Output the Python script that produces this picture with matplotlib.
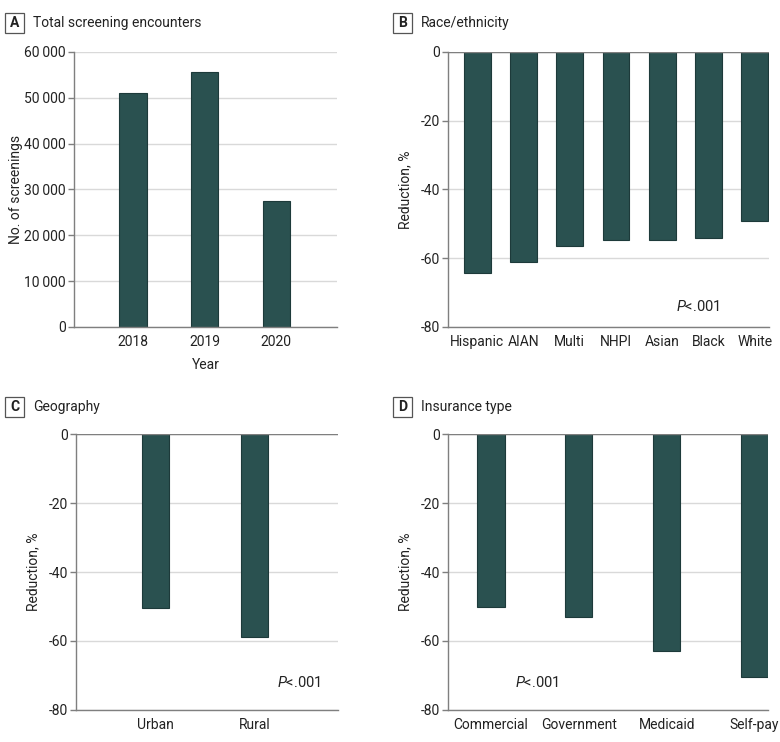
import matplotlib
matplotlib.use("Agg")
import matplotlib.pyplot as plt
from matplotlib.patches import Rectangle

plt.rcParams['font.family'] = ['Roboto', 'DejaVu Sans']
plt.rcParams['mathtext.fontset'] = 'custom'
plt.rcParams['mathtext.it'] = 'Roboto:italic'
plt.rcParams['mathtext.rm'] = 'Roboto'

# ---- data ----
years = ["2018", "2019", "2020"]
screenings = [51100, 55700, 27500]

race_cats = ["Hispanic", "AIAN", "Multi", "NHPI", "Asian", "Black", "White"]
race_vals = [-64.4, -61.2, -56.3, -54.6, -54.6, -54.0, -49.3]

geo_cats = ["Urban", "Rural"]
geo_vals = [-50.5, -58.9]

ins_cats = ["Commercial", "Government", "Medicaid", "Self-pay"]
ins_vals = [-50.1, -53.0, -62.8, -70.6]

a_ticks = [0, 10000, 20000, 30000, 40000, 50000, 60000]
a_ticklabels = ["0", "10\u2009000", "20\u2009000", "30\u2009000", "40\u2009000", "50\u2009000", "60\u2009000"]
r_ticks = [-80, -60, -40, -20, 0]

BAR = "#2a5150"
EDGE = "#1d3a3a"
AX = "#7f7f7f"
GRID = "#d9d9d9"
TXT = "#222222"
FS = 10

W, H = 780, 742
fig = plt.figure(figsize=(W / 100, H / 100), dpi=100)

def style(ax):
    for s in ["top", "right"]:
        ax.spines[s].set_visible(False)
    for s in ["left", "bottom"]:
        ax.spines[s].set_color(AX)
        ax.spines[s].set_linewidth(1.0)
    ax.tick_params(axis='y', length=4, width=1, color=AX, labelsize=FS, pad=2, labelcolor=TXT)
    ax.tick_params(axis='x', length=0, labelsize=FS, pad=6, labelcolor=TXT)
    ax.yaxis.grid(True, color=GRID, linewidth=1.0)
    ax.set_axisbelow(True)

def panel_title(letter, text, bx, by_top):
    x0 = bx / W
    y0 = 1 - (by_top + 20) / H
    fig.add_artist(Rectangle((x0, y0), 19 / W, 20 / H, transform=fig.transFigure,
                             fc='white', ec='#555555', lw=0.9))
    fig.text(x0 + 9.5 / W, y0 + 10 / H, letter, fontsize=10, fontweight='bold',
             ha='center', va='center', color=TXT)
    fig.text((bx + 28) / W, y0 + 10 / H, text, fontsize=10, ha='left', va='center', color=TXT)

def ptext(ax, x, y):
    ax.text(x, y, r"$\mathit{P}$<.001", fontsize=10.5, ha='left', va='center', color=TXT)

# Panel A
axA = fig.add_axes([0.0949, 0.5593, 0.3371, 0.3707])
axA.bar(range(len(years)), screenings, width=0.38, color=BAR, edgecolor=EDGE, linewidth=0.8)
axA.set_xlim(-0.825, 2.85)
axA.set_ylim(0, 60000)
axA.set_yticks(a_ticks)
axA.set_yticklabels(a_ticklabels)
axA.set_xticks(range(len(years)))
axA.set_xticklabels(years)
style(axA)
axA.set_xlabel("Year", fontsize=FS, labelpad=6, color=TXT)
axA.set_ylabel("No. of screenings", fontsize=FS, labelpad=1, color=TXT)
panel_title("A", "Total screening encounters", 5, 13)

def reduction_panel(rect, cats, vals, width, xlim):
    ax = fig.add_axes(rect)
    ax.bar(range(len(cats)), vals, width=width, color=BAR, edgecolor=EDGE, linewidth=0.8)
    ax.set_xlim(*xlim)
    ax.set_ylim(-80, 0)
    ax.set_yticks(r_ticks)
    ax.set_yticklabels([str(t) for t in r_ticks])
    ax.set_xticks(range(len(cats)))
    ax.set_xticklabels(cats)
    style(ax)
    ax.axhline(0, color=AX, linewidth=1.0, zorder=3)
    ax.set_ylabel("Reduction, %", fontsize=FS, labelpad=6, color=TXT)
    return ax

axB = reduction_panel([0.5744, 0.5593, 0.4115, 0.3707], race_cats, race_vals, 0.58, (-0.63, 6.31))
ptext(axB, 4.3, -74)
panel_title("B", "Race/ethnicity", 393, 13)

axC = reduction_panel([0.0974, 0.0435, 0.3359, 0.3712], geo_cats, geo_vals, 0.27, (-0.80, 1.84))
ptext(axC, 1.23, -72)
panel_title("C", "Geography", 5, 397)

axD = reduction_panel([0.5744, 0.0435, 0.4098, 0.3712], ins_cats, ins_vals, 0.31, (-0.49, 3.15))
ptext(axD, 0.27, -72)
panel_title("D", "Insurance type", 393, 397)

fig.savefig("out.png", dpi=100, facecolor="white")
